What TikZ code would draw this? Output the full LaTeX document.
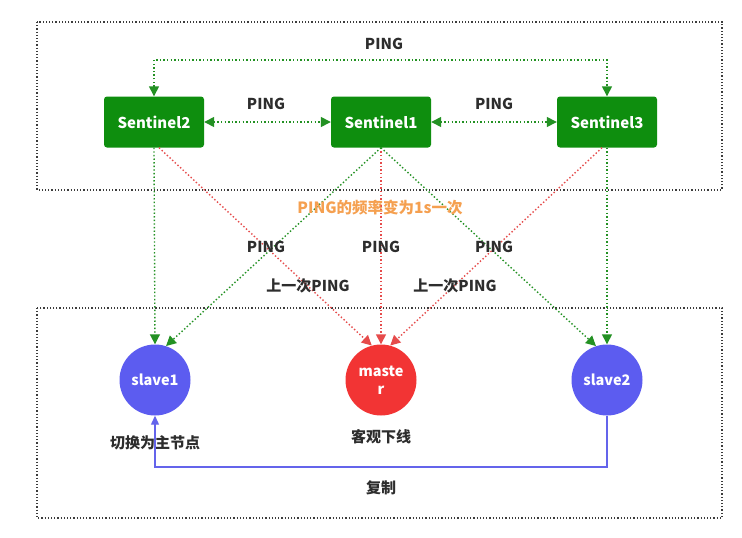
\documentclass[tikz,border=0pt]{standalone}
\usepackage{fontspec}
\setmainfont{Noto Sans CJK SC}
\usetikzlibrary{arrows.meta}
\definecolor{sgreen}{RGB}{14,142,14}
\definecolor{lgreen}{RGB}{35,145,35}
\definecolor{lred}{RGB}{230,75,75}
\definecolor{cred}{RGB}{242,52,52}
\definecolor{cblue}{RGB}{92,92,240}
\definecolor{lblue}{RGB}{100,100,235}
\definecolor{orangetxt}{RGB}{245,160,80}
\definecolor{txt}{RGB}{45,45,45}
\definecolor{frame}{RGB}{60,60,60}
\tikzset{
  sentbox/.style={rectangle, rounded corners=3pt, fill=sgreen, minimum width=100pt, minimum height=51pt, text=white, font=\bfseries\fontsize{15}{17}\selectfont},
  circ/.style={circle, minimum size=71pt, inner sep=0pt, text=white, font=\bfseries\fontsize{14.5}{18}\selectfont, align=center},
  lbl/.style={text=txt, font=\bfseries\fontsize{15}{17}\selectfont, inner sep=1pt},
  frm/.style={draw=frame, line width=1.2pt, dash pattern=on 1.2pt off 2pt},
  gdot/.style={draw=lgreen, line width=1.4pt, dash pattern=on 1.4pt off 2.2pt, -{Triangle[length=10pt,width=10pt,fill=lgreen]}},
  rdot/.style={draw=lred, line width=1.4pt, dash pattern=on 1.4pt off 2.2pt, -{Triangle[length=10pt,width=10pt,fill=lred]}},
  gboth/.style={draw=lgreen, line width=1.4pt, dash pattern=on 1.4pt off 2.2pt, {Triangle[length=10pt,width=10pt,fill=lgreen]}-{Triangle[length=10pt,width=10pt,fill=lgreen]}},
}
\begin{document}
\begin{tikzpicture}[x=1pt,y=-1pt]
\useasboundingbox[fill=white] (0,0) rectangle (742,538);
% frames
\draw[frm] (37,22) rectangle (722,190);
\draw[frm] (37,308) rectangle (722,518);
% sentinels
\node[sentbox] (s2) at (154,122) {Sentinel2};
\node[sentbox] (s1) at (381,122) {Sentinel1};
\node[sentbox] (s3) at (607,122) {Sentinel3};
% circles
\node[circ, fill=cblue] (sl1) at (155,380) {slave1};
\node[circ, fill=cred] (ma) at (381,380) {maste\\r};
\node[circ, fill=cblue] (sl2) at (607,380) {slave2};
% top ping
\coordinate (topmid) at (381,60);
\draw[gboth] (s2.north) |- (topmid) -| (s3.north);
\node[lbl] (ptop) at (384,44) {PING};
\draw[gboth] (s2.east) -- (s1.west);
\draw[gboth] (s1.east) -- (s3.west);
\node[lbl] (p21) at (266,104) {PING};
\node[lbl] (p13) at (494,104) {PING};
% red lines
\draw[rdot] ([xshift=5pt]s2.south) -- (ma.105);
\draw[rdot] (s1.south) -- (ma.north);
\draw[rdot] ([xshift=-5pt]s3.south) -- (ma.75);
% green lines
\draw[gdot] (s2.south) -- (sl1.north);
\draw[gdot] (s1.south) -- (sl1.72);
\draw[gdot] (s1.south) -- (sl2.108);
\draw[gdot] (s3.south) -- (sl2.north);
% labels
\node[text=orangetxt, font=\bfseries\fontsize{15.5}{17}\selectfont, inner sep=1pt] (freq) at (380,208) {PING的频率变为1s一次};
\node[lbl] (pa) at (266,247) {PING};
\node[lbl] (pb) at (381,247) {PING};
\node[lbl] (pc) at (494,247) {PING};
\node[lbl] (la) at (308,286) {上一次PING};
\node[lbl] (lb) at (455,286) {上一次PING};
\node[lbl] (sw) at (155,443) {切换为主节点};
\node[lbl] (od) at (381,437) {客观下线};
\node[lbl] (rep) at (381,488) {复制};
% replication
\coordinate (rbot) at (381,467);
\draw[draw=lblue, line width=1.2pt, -{Triangle[length=9pt,width=8pt,fill=lblue]}] (sl2.south) |- (rbot) -| (sl1.south);
\end{tikzpicture}
\end{document}
